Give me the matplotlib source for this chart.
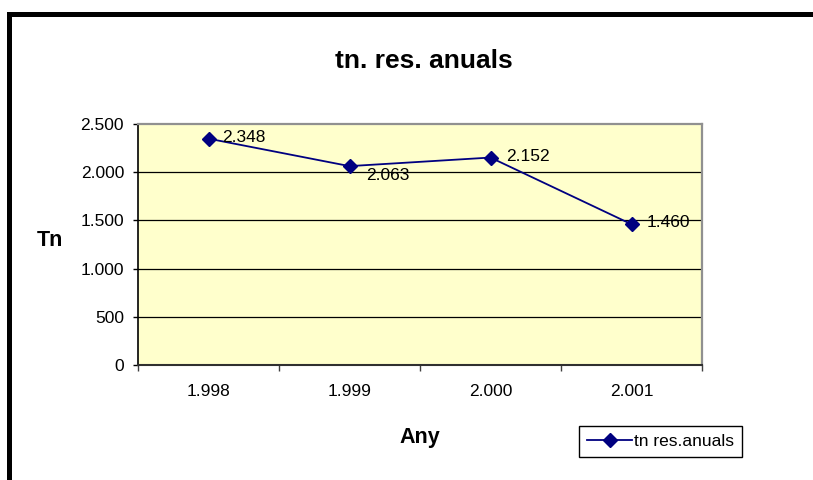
import matplotlib.pyplot as plt
from matplotlib.patches import Rectangle
from matplotlib.ticker import FixedLocator, FuncFormatter

# data
anys = ['1.998', '1.999', '2.000', '2.001']
tones = [2348, 2063, 2152, 1460]
etiquetes = ['2.348', '2.063', '2.152', '1.460']
# label offsets (points) relative to each marker
offsets = [(10, 1), (12, -7), (11, 1), (11, 1)]

plt.rcParams['font.family'] = ['Liberation Sans', 'DejaVu Sans']

W, H = 813, 480
fig = plt.figure(figsize=(W / 100, H / 100), dpi=100)
fig.patch.set_facecolor('white')

# plot area in pixels: left 138, right 702, top 124, bottom 365
ax = fig.add_axes([138 / W, (H - 365) / H, 564 / W, 241 / H])
ax.set_facecolor('#FFFFCC')

x = list(range(len(anys)))
line, = ax.plot(x, tones, color='#000080', lw=1.3, marker='D', ms=7,
                markeredgecolor='#000080', markerfacecolor='#000080',
                label='tn res.anuals', zorder=3)

for xi, yi, txt, off in zip(x, tones, etiquetes, offsets):
    ax.annotate(txt, (xi, yi), xytext=off, textcoords='offset points',
                ha='left', va='center', fontsize=12.5, color='black', zorder=4)

ax.set_xlim(-0.5, len(anys) - 0.5)
ax.set_ylim(0, 2500)

# y axis
ax.yaxis.set_major_locator(FixedLocator([0, 500, 1000, 1500, 2000, 2500]))
ax.yaxis.set_major_formatter(FuncFormatter(lambda v, p: f"{int(v):,}".replace(',', '.')))
ax.tick_params(axis='y', direction='out', length=3.5, width=1, pad=6.5,
               labelsize=12.5, colors='black')
for v in [500, 1000, 1500, 2000]:
    ax.axhline(v, color='black', lw=0.9, zorder=1)

# x axis: ticks between categories, labels at centres
ax.set_xticks([i - 0.5 for i in range(len(anys) + 1)])
ax.set_xticklabels([])
ax.set_xticks(x, minor=True)
ax.set_xticklabels(anys, minor=True)
ax.tick_params(axis='x', which='major', direction='out', length=4, width=1,
               color='#404040')
ax.tick_params(axis='x', which='minor', length=0, pad=14, labelsize=12.5)

for s in ['top', 'right']:
    ax.spines[s].set_color('#909090')
    ax.spines[s].set_linewidth(1.6)
ax.spines['left'].set_color('black')
ax.spines['bottom'].set_color('#303030')
ax.spines['left'].set_linewidth(1.2)
ax.spines['bottom'].set_linewidth(1.5)

# titles
fig.text(424 / W, 1 - 61 / H, 'tn. res. anuals', ha='center', va='center',
         fontsize=19, fontweight='bold')
fig.text(50 / W, 1 - 240 / H, 'Tn', ha='center', va='center',
         fontsize=15.5, fontweight='bold')
fig.text(420 / W, 1 - 437 / H, 'Any', ha='center', va='center',
         fontsize=15.5, fontweight='bold')

leg = fig.legend(handles=[line], loc='center',
                 bbox_to_anchor=(660.5 / W, 1 - 441.5 / H),
                 fontsize=12.5, frameon=True, fancybox=False,
                 edgecolor='black', framealpha=1, borderpad=0.45,
                 handlelength=2.6, handletextpad=0.1, borderaxespad=0)
leg.get_frame().set_linewidth(1.0)

# thick black frame on top and left edge
fig.add_artist(Rectangle((7 / W, 1 - 17 / H), 1 - 7 / W, 5 / H,
                         transform=fig.transFigure, color='black', lw=0))
fig.add_artist(Rectangle((7 / W, 0), 5 / W, 1 - 12 / H,
                         transform=fig.transFigure, color='black', lw=0))

fig.savefig('out.png', dpi=100)
